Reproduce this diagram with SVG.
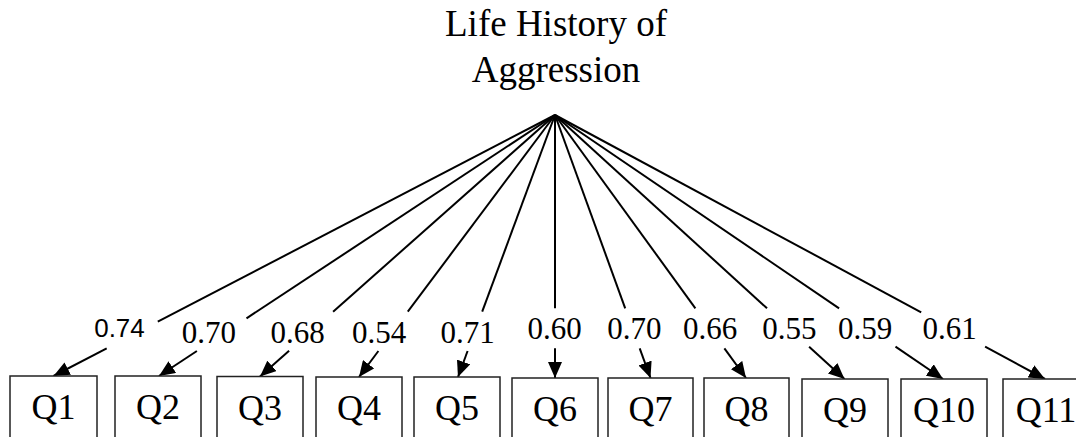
<svg xmlns="http://www.w3.org/2000/svg" width="1076" height="437" viewBox="0 0 1076 437">
<style>
.t{font-family:'Liberation Serif','Times New Roman',Times,serif;fill:#000;text-anchor:middle}
.title{font-size:37px}
.q{font-size:36px}
.lb{font-size:31px}
.lbs{font-family:'Liberation Sans',Arial,sans-serif;font-size:26px;fill:#000;text-anchor:middle}
.box{fill:#fff;stroke:#222;stroke-width:1.5}
.ln{stroke:#000;stroke-width:2;fill:none}
.ar{stroke:#000;stroke-width:2;fill:none;marker-end:url(#ah)}
</style>
<defs>
<marker id="ah" markerUnits="userSpaceOnUse" markerWidth="16" markerHeight="14" refX="16" refY="7" orient="auto">
<path d="M0,0 L16,7 L0,14 z" fill="#000"/>
</marker>
</defs>
<rect width="1076" height="437" fill="#fff"/>
<g id="latent">
<text class="t title" x="556" y="36">Life History of</text>
<text class="t title" x="556" y="82">Aggression</text>
</g>
<g id="connectors">
<line class="ln" x1="555" y1="115" x2="157.8" y2="321.7"/><line class="ar" x1="106.7" y1="348.3" x2="53.5" y2="376"/>
<line class="ln" x1="555" y1="115" x2="246.5" y2="318.3"/><line class="ar" x1="196.9" y1="351" x2="159" y2="376"/>
<line class="ln" x1="555" y1="115" x2="333.1" y2="311.7"/><line class="ar" x1="289.1" y1="350.7" x2="260" y2="376.5"/>
<line class="ln" x1="555" y1="115" x2="407.8" y2="311.7"/><line class="ar" x1="378.4" y1="351" x2="359" y2="377"/>
<line class="ln" x1="555" y1="115" x2="482.2" y2="311.7"/><line class="ar" x1="467.6" y1="351" x2="458" y2="377"/>
<line class="ln" x1="555" y1="115" x2="555" y2="308.3"/><line class="ar" x1="555" y1="348.3" x2="555" y2="378"/>
<line class="ln" x1="555" y1="115" x2="625.2" y2="308.3"/><line class="ar" x1="639.7" y1="348.3" x2="650.5" y2="378"/>
<line class="ln" x1="555" y1="115" x2="695.4" y2="308.3"/><line class="ar" x1="724.4" y1="348.3" x2="746" y2="378"/>
<line class="ln" x1="555" y1="115" x2="767" y2="308.3"/><line class="ar" x1="809.1" y1="346.7" x2="844.5" y2="379"/>
<line class="ln" x1="555" y1="115" x2="839.1" y2="308.3"/><line class="ar" x1="895.5" y1="346.7" x2="943" y2="379"/>
<line class="ln" x1="555" y1="115" x2="921.2" y2="312.3"/><line class="ar" x1="985.1" y1="346.7" x2="1045" y2="379"/>
<text class="lbs" x="119.5" y="337">0.74</text>
<text class="t lb" x="208.8" y="343">0.70</text>
<text class="t lb" x="297.5" y="343">0.68</text>
<text class="t lb" x="379.2" y="342.5">0.54</text>
<text class="t lb" x="467.5" y="343">0.71</text>
<text class="t lb" x="554.7" y="339.3">0.60</text>
<text class="t lb" x="634.3" y="339.3">0.70</text>
<text class="t lb" x="710" y="338.5">0.66</text>
<text class="t lb" x="789.3" y="339.3">0.55</text>
<text class="t lb" x="865" y="339.3">0.59</text>
<text class="t lb" x="949.7" y="339.3">0.61</text>
</g>
<g id="Q1"><rect class="box" x="10" y="376" width="87" height="70"/><text class="t q" x="53.5" y="419">Q1</text></g>
<g id="Q2"><rect class="box" x="115" y="376" width="86" height="70"/><text class="t q" x="158" y="419">Q2</text></g>
<g id="Q3"><rect class="box" x="217" y="376.5" width="86" height="70"/><text class="t q" x="260" y="419.5">Q3</text></g>
<g id="Q4"><rect class="box" x="316" y="377" width="86" height="70"/><text class="t q" x="359" y="420">Q4</text></g>
<g id="Q5"><rect class="box" x="414" y="377" width="86" height="70"/><text class="t q" x="457" y="420">Q5</text></g>
<g id="Q6"><rect class="box" x="512" y="378" width="86" height="70"/><text class="t q" x="555" y="420.5">Q6</text></g>
<g id="Q7"><rect class="box" x="608" y="378" width="85" height="70"/><text class="t q" x="650.5" y="421">Q7</text></g>
<g id="Q8"><rect class="box" x="704" y="378" width="85" height="70"/><text class="t q" x="746.5" y="421">Q8</text></g>
<g id="Q9"><rect class="box" x="802" y="379" width="86" height="70"/><text class="t q" x="845" y="421.5">Q9</text></g>
<g id="Q10"><rect class="box" x="901" y="379" width="86" height="70"/><text class="t q" x="944" y="421.7">Q10</text></g>
<g id="Q11"><rect class="box" x="1003" y="379" width="86" height="70"/><text class="t q" x="1046" y="421.7">Q11</text></g>
</svg>
